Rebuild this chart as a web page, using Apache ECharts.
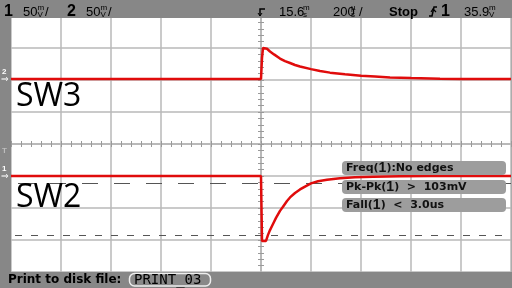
<!DOCTYPE html>
<html><head><meta charset="utf-8">
<script src="https://cdn.jsdelivr.net/npm/echarts@6/dist/echarts.min.js"></script>
<style>html,body{margin:0;padding:0;background:#868686}#c{width:512px;height:288px}</style>
</head><body><div id="c"></div>
<script>
// Channel 2 (SW3) trace: time in µs, level in divisions
const sw3Time  = [-1000, 0, 4, 8, 12, 24, 36, 52, 76, 96, 116, 136, 156, 200, 236, 276, 336, 400, 456, 516, 600, 716, 800, 1000];
const sw3Level = [2.03, 2.03, 2.69, 3.0, 3.06, 2.975, 2.89, 2.80, 2.67, 2.59, 2.53, 2.47, 2.42, 2.34, 2.28, 2.23, 2.18, 2.13, 2.106, 2.08, 2.06, 2.04, 2.03, 2.03];
// Channel 1 (SW2) trace
const sw2Time  = [-1000, 0, 4, 20, 28, 36, 48, 60, 76, 88, 104, 116, 136, 156, 176, 200, 228, 264, 316, 376, 448, 556, 676, 1000];
const sw2Level = [-1.0, -1.0, -3.03, -3.03, -2.84, -2.69, -2.5, -2.31, -2.09, -1.96, -1.78, -1.67, -1.53, -1.42, -1.33, -1.23, -1.165, -1.12, -1.07, -1.04, -1.02, -1.006, -1.0, -1.0];
// Cursor lines (divisions)
const cursorLevels = [-1.22, -2.84];
// Measurements
const measurements = [['Freq(', '1', '):No edges'], ['Pk-Pk(', '1', ')  >  103mV'], ['Fall(', '1', ')  <  3.0us']];
const traceLabels = ['SW3', 'SW2'];

const zip = (a, b) => a.map((v, i) => [v, b[i]]);
const chart = echarts.init(document.getElementById('c'));
const F = '"Liberation Sans", Arial, sans-serif';
const D = '"DejaVu Sans", sans-serif';
const GRID = '#b8b8b8', TICK = '#9a9a9a', RED = '#e00c0c';

function txt(x, y, text, font, fill, va) {
  return {type: 'text', x, y, z: 100, silent: true,
    style: {text, font, fill: fill || '#000', verticalAlign: va || 'middle'}};
}
function stacked(x, top, bottom) {
  return [txt(x, 8, top, '8px ' + F), txt(x, 14.5, bottom, '8px ' + F)];
}
function axisX(pos, split) {
  return {type: 'value', min: -1000, max: 1000, interval: 200, position: pos,
    axisLine: {show: true, onZero: true, lineStyle: {color: GRID, width: 1.5}},
    axisTick: {show: true, length: 3, lineStyle: {color: TICK}},
    minorTick: {show: true, splitNumber: 5, length: 3, lineStyle: {color: TICK}},
    axisLabel: {show: false},
    splitLine: {show: split, lineStyle: {color: GRID, width: 1.5}}};
}
function axisY(pos, split) {
  return {type: 'value', min: -4, max: 4, interval: 1, position: pos,
    axisLine: {show: true, onZero: true, lineStyle: {color: GRID, width: 1.5}},
    axisTick: {show: true, length: 3, lineStyle: {color: TICK}},
    minorTick: {show: true, splitNumber: 5, length: 3, lineStyle: {color: TICK}},
    axisLabel: {show: false},
    splitLine: {show: split, lineStyle: {color: GRID, width: 1.5}}};
}

const graphic = [
  {type: 'rect', z: 90, silent: true, shape: {x: 0, y: 0, width: 512, height: 18}, style: {fill: '#878787'}},
  {type: 'rect', z: 90, silent: true, shape: {x: 0, y: 272, width: 512, height: 16}, style: {fill: '#878787'}},
  {type: 'rect', z: 90, silent: true, shape: {x: 0, y: 0, width: 11, height: 288}, style: {fill: '#878787'}},
  // header
  txt(4, 12, '1', 'bold 16px ' + F),
  txt(23, 12, '50', '13px ' + F),
  ...stacked(37.5, 'm', 'V'),
  txt(45, 12, '/', '13px ' + F),
  txt(67, 12, '2', 'bold 16px ' + F),
  txt(86, 12, '50', '13px ' + F),
  ...stacked(100.5, 'm', 'V'),
  txt(108, 12, '/', '13px ' + F),
  {type: 'polyline', z: 100, silent: true, shape: {points: [[265, 9], [260, 9], [260, 16]]}, style: {stroke: '#000', lineWidth: 1.5, fill: null}},
  {type: 'polyline', z: 100, silent: true, shape: {points: [[258, 13], [260, 16], [262, 13]]}, style: {stroke: '#000', lineWidth: 1, fill: null}},
  txt(279, 12, '15.6', '13px ' + F),
  ...stacked(303, 'm', 's'),
  txt(333, 12, '200', '13px ' + F),
  ...stacked(351, 'µ', 's'),
  txt(359, 12, '/', '13px ' + F),
  txt(389, 12, 'Stop', 'bold 13px ' + F),
  {type: 'polyline', z: 100, silent: true, shape: {points: [[429, 16], [432, 16], [434, 7], [437, 7]]}, style: {stroke: '#000', lineWidth: 1.5, fill: null}},
  {type: 'polyline', z: 100, silent: true, shape: {points: [[431, 12], [433, 9], [436, 12]]}, style: {stroke: '#000', lineWidth: 1.2, fill: null}},
  txt(441, 12, '1', 'bold 16px ' + F),
  txt(464, 12, '35.9', '13px ' + F),
  ...stacked(489, 'm', 'V'),
  // left strip markers
  txt(2, 72, '2', 'bold 8px ' + F, '#fff'),
  txt(1, 80, '⇒', '9px "DejaVu Sans"', '#fff'),
  txt(2, 151, 'T', 'bold 8px ' + F, '#bdbdbd'),
  txt(2, 169, '1', 'bold 8px ' + F, '#fff'),
  txt(1, 177, '⇒', '9px "DejaVu Sans"', '#fff'),
  // trace labels
  txt(16, 97, traceLabels[0], '32px "Open Sans"', '#000'),
  txt(16, 198, traceLabels[1], '32px "Open Sans"', '#000'),
  // footer
  txt(8, 280, 'Print to disk file:', 'bold 12px ' + D),
  {type: 'rect', z: 100, silent: true, shape: {x: 129.5, y: 273.5, width: 81, height: 12.5, r: 5}, style: {fill: '#888', stroke: '#eee', lineWidth: 1.5}},
  txt(134, 280, 'PRINT_03', '14px "DejaVu Sans Mono"', '#000')
];
const boxY = [161, 180, 198];
measurements.forEach((m, i) => {
  graphic.push({type: 'rect', z: 100, silent: true, shape: {x: 342, y: boxY[i], width: 164, height: 14, r: 4}, style: {fill: '#9d9d9d'}});
  graphic.push({type: 'text', z: 101, silent: true, x: 346, y: boxY[i] + 7.5,
    style: {text: '{a|' + m[0] + '}{b|' + m[1] + '}{a|' + m[2] + '}', verticalAlign: 'middle',
      rich: {a: {font: 'bold 11px ' + D, fill: '#111'}, b: {font: 'bold 14px ' + F, fill: '#111'}}}});
});

chart.setOption({
  animation: false,
  backgroundColor: '#878787',
  grid: {left: 11, top: 16, width: 500, height: 256, show: true, backgroundColor: '#fff', borderWidth: 0},
  xAxis: [axisX('bottom', true), axisX('top', false)],
  yAxis: [axisY('left', true), axisY('right', false)],
  graphic,
  series: [
    {type: 'line', data: zip(sw3Time, sw3Level), showSymbol: false, lineStyle: {color: RED, width: 2.5}, z: 5},
    {type: 'line', data: zip(sw2Time, sw2Level), showSymbol: false, lineStyle: {color: RED, width: 2.5}, z: 5,
      markLine: {silent: true, symbol: 'none', label: {show: false}, z: 3,
        lineStyle: {color: '#555', width: 1},
        data: [
          {yAxis: cursorLevels[0], lineStyle: {color: '#555', width: 1, type: [16, 16], dashOffset: 25}},
          {yAxis: cursorLevels[1], lineStyle: {color: '#555', width: 1, type: [7, 9], dashOffset: 12}}
        ]}}
  ]
});
</script></body></html>
